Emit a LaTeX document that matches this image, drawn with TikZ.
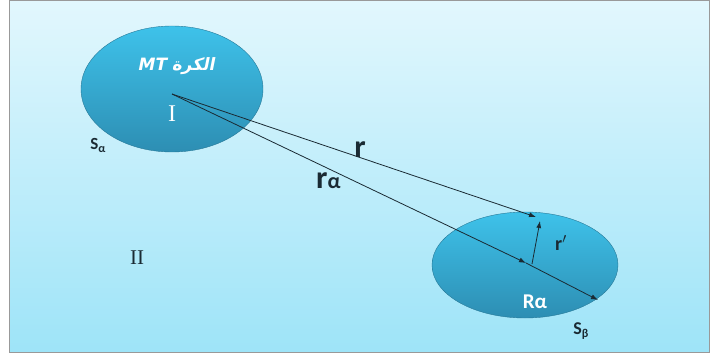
\documentclass[tikz,border=0pt]{standalone}
\usepackage{fontspec}
\setmainfont{Carlito}
\newfontfamily\romanfont{Liberation Serif}
\newfontfamily\arabicfont[Script=Arabic,FakeSlant=0.2]{DejaVu Sans}
\newfontfamily\latinit[FakeSlant=0.2]{DejaVu Sans}
\TeXXeTstate=1
\usetikzlibrary{arrows.meta,shapes.geometric}
\definecolor{bgtop}{HTML}{E2F7FD}
\definecolor{bgbot}{HTML}{9EE4F8}
\definecolor{baltop}{HTML}{3EC2EA}
\definecolor{balbot}{HTML}{2D8EB3}
\definecolor{ink}{HTML}{1A2A33}
\tikzset{
  ball/.style={ellipse, inner sep=0pt, top color=baltop, bottom color=balbot, draw=balbot!85!black, line width=0.4pt},
  vec/.style={draw=ink, line width=0.8pt, -{Latex[length=7pt,width=5pt]}},
  lbl/.style={text=ink, inner sep=0pt},
  wlbl/.style={text=white, inner sep=0pt}
}
\begin{document}
\begin{tikzpicture}[x=1pt,y=-1pt]
\useasboundingbox (0,0) rectangle (712,358);
\fill[white] (0,0) rectangle (712,358);
\draw[gray!80, line width=1pt, top color=bgtop, bottom color=bgbot] (9,1) rectangle (709,352);
\node[ball, minimum width=182pt, minimum height=126pt] (e1) at (172,89) {};
\node[ball, minimum width=186pt, minimum height=106pt] (e2) at (525,265) {};
\coordinate (o) at (172,94);
\coordinate (pr) at (536,217);
\coordinate (pa) at (526,263);
\coordinate (pq) at (532,264);
\coordinate (pt) at (540,221);
\coordinate (pe) at (598,300);
\draw[vec] (o) -- (pr);
\draw[vec] (o) -- (pa);
\draw[vec] (pa) -- (pe);
\draw[vec] (pq) -- (pt);
\node[wlbl, font=\fontsize{17}{20}\selectfont] (t1) at (176,66) {\arabicfont\bfseries\beginR الكرة \beginL\latinit\bfseries MT\endL\endR};
\node[wlbl, font=\romanfont\fontsize{24}{26}\selectfont] (t2) at (172,114) {I};
\node[lbl, font=\bfseries\fontsize{17}{18}\selectfont] (t3) at (98,145) {S\raisebox{-3pt}{\fontsize{12}{12}\selectfont α}};
\node[lbl, font=\romanfont\fontsize{21}{22}\selectfont] (t4) at (137,258) {II};
\node[lbl, font=\bfseries\fontsize{32}{34}\selectfont] (t5) at (360,150) {r};
\node[lbl, font=\bfseries\fontsize{32}{34}\selectfont, anchor=base west] (t6) at (316,189) {r\fontsize{22}{22}\selectfont α};
\node[lbl, font=\bfseries\fontsize{20}{22}\selectfont] (t7) at (561,243) {r$'$};
\node[wlbl, font=\bfseries\fontsize{21}{22}\selectfont] (t8) at (535,302) {Rα};
\node[lbl, font=\bfseries\fontsize{18}{20}\selectfont] (t9) at (581,331) {S\raisebox{-3pt}{\fontsize{12}{12}\selectfont β}};
\end{tikzpicture}
\end{document}
